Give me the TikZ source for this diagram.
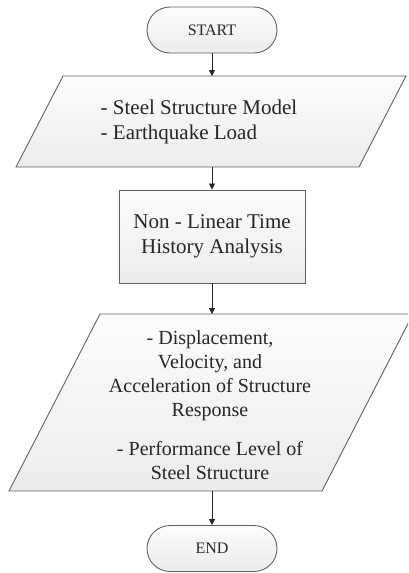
\documentclass[tikz,border=0pt]{standalone}
\usepackage{fontspec}
\setmainfont{Liberation Serif}
\usetikzlibrary{arrows.meta}
\begin{document}
\begin{tikzpicture}[x=1pt,y=-1pt,
  boxfill/.style={top color=gray!2, bottom color=gray!15, draw=black!62, line width=0.9pt},
  term/.style={boxfill, rectangle, rounded corners=23pt, minimum width=130pt, minimum height=46pt,
    font=\fontsize{16}{19}\selectfont, text=black!85, inner sep=0pt},
  procbox/.style={boxfill, rectangle, minimum width=186pt, minimum height=93pt,
    font=\fontsize{21}{25}\selectfont, align=center, text=black!85, inner sep=0pt},
  txtbig/.style={font=\fontsize{21}{25}\selectfont, text=black!85, inner sep=0pt},
  txtmid/.style={font=\fontsize{20}{24}\selectfont, text=black!85, inner sep=0pt, align=center},
  flow/.style={draw=black!85, line width=0.8pt, -{Triangle[width=6pt,length=6pt]}}
]
\clip (0,0) rectangle (408,573);
\useasboundingbox (0,0) rectangle (408,573);

% START
\node[term] (start) at (212,30) {START};

% input parallelogram
\draw[boxfill] (63,76) -- (406,76) -- (359,167) -- (16,167) -- cycle;
\coordinate (intop) at (212,76);
\coordinate (inbot) at (212,167);
\node[txtbig, align=left] (inp) at (199,122) {- Steel Structure Model\\- Earthquake Load};

% process
\node[procbox] (ana) at (212,236.5) {Non - Linear Time\\History Analysis};

% output parallelogram
\draw[boxfill] (100,314) -- (413,314) -- (322,491) -- (9,491) -- cycle;
\coordinate (outtop) at (212,314);
\coordinate (outbot) at (212,491);
\node[txtmid] (out) at (210,405) {- Displacement,\\Velocity, and\\Acceleration of Structure\\Response\\[15pt]- Performance Level of\\Steel Structure};

% END
\node[term] (end) at (212,548.5) {END};

% connectors
\draw[flow] (start.south) -- (intop);
\draw[flow] (inbot) -- (ana.north);
\draw[flow] (ana.south) -- (outtop);
\draw[flow] (outbot) -- (end.north);
\end{tikzpicture}
\end{document}
